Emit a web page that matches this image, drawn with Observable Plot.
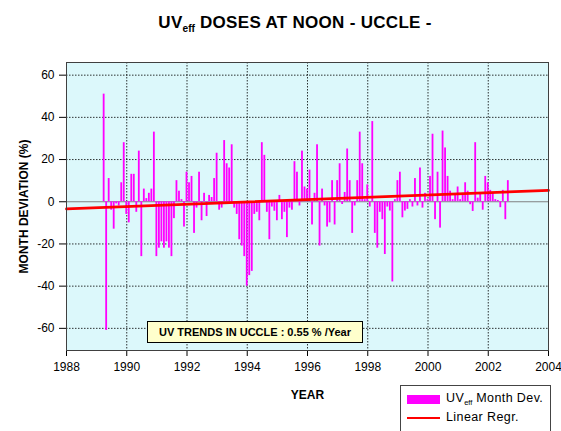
<!DOCTYPE html>
<html><head><meta charset="utf-8">
<script src="https://cdn.jsdelivr.net/npm/d3@7"></script>
<script src="https://cdn.jsdelivr.net/npm/@observablehq/plot@0.6"></script>
<style>
body{margin:0;background:#fff;}
#wrap{position:relative;width:561px;height:431px;overflow:hidden;font-family:"Liberation Sans",Arial,sans-serif;color:#000;}
#chart{position:absolute;left:0;top:0;}
#title{position:absolute;left:0;width:590px;top:13px;text-align:center;font-weight:bold;font-size:17px;letter-spacing:0.3px;}
#title sub, .leg sub{font-size:0.6em;vertical-align:-0.35em;letter-spacing:0;}
#note{position:absolute;left:147px;top:321px;width:214px;height:20px;border:1px solid #000;background:#ffffcc;font-weight:bold;font-size:11px;line-height:20px;text-align:center;}
#legend{position:absolute;left:400px;top:385px;width:149px;height:60px;border:1px solid #444;background:#fff;}
.sw{position:absolute;}
.leg{position:absolute;left:45px;font-size:12.5px;letter-spacing:0.4px;white-space:nowrap;}
g[aria-label="y-axis label"] text, g[aria-label="x-axis label"] text{font-weight:bold;font-size:12px;}
</style>
</head><body>
<div id="wrap">
  <div id="chart"></div>
  <div id="title">UV<sub>eff</sub> DOSES AT NOON - UCCLE -</div>
  <div id="note">UV TRENDS IN UCCLE : 0.55 % /Year</div>
  <div id="legend">
    <div class="sw" style="left:6px;top:9px;width:33px;height:9px;background:#ff00ff"></div>
    <div class="leg" style="top:5px">UV<sub>eff</sub> Month Dev.</div>
    <div class="sw" style="left:6px;top:31px;width:33px;height:2px;background:#ff0000"></div>
    <div class="leg" style="top:24px">Linear Regr.</div>
  </div>
</div>
<script>
// Monthly deviations (%) by year; 1989 starts in April
const dev1989 = [51, -61, 11, -4, -13, -1, -2, 9, 28];
const dev1990 = [-6, -10, 13, 13, -5, 24, -26, 6, 1.5, 4, 6, 33];
const dev1991 = [-26, -22, -19, -22, -19, -22, -26, -8, 10, 5, 1, -12];
const dev1992 = [14, 9, 12, -15, -3, 14, -9, 4, -7, 3, 2, 11];
const dev1993 = [23, -4, -3, 29, 18, 16, 27, -3, -6, -18, -21, -26];
const dev1994 = [-40, -35, -33, -6, -5, -9, 28, 22, -5, -18, -2.5, -4.5];
const dev1995 = [-9, 3, -8.5, -5, -17, -3, -4, 19, 14, -2, 24, 7];
const dev1996 = [6, 15, -11, 4, 27, -21, 6, -2, -12, -10, 10, -11];
const dev1997 = [10, 18, -1.3, 4.4, 25, 10, -15, -2, 10, 33, 18, 1];
const dev1998 = [8, -2.5, 38, -15, -22, -5, -8.5, -25, -2.5, -4.4, -38, 1];
const dev1999 = [10, 14, -7.6, -4.4, -3.6, 1, -2.5, 11, -2, 16, -3, 4];
const dev2000 = [1, 12, 32, -8.5, 14, -12.5, 33.5, 25.5, 12, 5, 1, 3];
const dev2001 = [7, 1, 4, 9, 5, -1.4, -4.6, 28, 1.7, 4, -4, 12];
const dev2002 = [9, 5.4, 4, 1, 0.6, -2.8, 5.4, -8.5, 10];
const seriesYears = [1989,1990,1991,1992,1993,1994,1995,1996,1997,1998,1999,2000,2001,2002];
const seriesDevs = [dev1989,dev1990,dev1991,dev1992,dev1993,dev1994,dev1995,dev1996,dev1997,dev1998,dev1999,dev2000,dev2001,dev2002];
const firstMonth = [3,0,0,0,0,0,0,0,0,0,0,0,0,0];

// Linear regression (0.55 %/year)
const regYears = [1988, 2004];
const regValues = [-3.4, 5.4];

const xTicks = [1988,1990,1992,1994,1996,1998,2000,2002,2004];
const yTicks = [-60,-40,-20,0,20,40,60];
const xGrid = [1990,1992,1994,1996,1998,2000,2002];
const yGrid = [-60,-40,-20,20,40,60];

const data = [];
seriesYears.forEach((y, k) => seriesDevs[k].forEach((v, i) => data.push({t: y + (firstMonth[k] + i) / 12, v})));
const reg = regYears.map((x, i) => ({x, y: regValues[i]}));

const chart = Plot.plot({
  width: 561, height: 431,
  marginTop: 62, marginBottom: 81, marginLeft: 66, marginRight: 13,
  style: {fontFamily: "Liberation Sans, Arial, sans-serif", fontSize: "12px", background: "transparent", color: "#000"},
  x: {domain: [1988, 2004]},
  y: {domain: [-70.5, 66]},
  marks: [
    Plot.frame({fill: "#dcf8fb", stroke: null}),
    Plot.gridX(xGrid, {stroke: "#000", strokeOpacity: 0.8, strokeDasharray: "1.5,1.5"}),
    Plot.gridY(yGrid, {stroke: "#000", strokeOpacity: 0.8, strokeDasharray: "1.5,1.5"}),
    Plot.ruleY([0], {stroke: "#808080", strokeWidth: 1.2}),
    Plot.rect(data, {x1: d => d.t - 0.03, x2: d => d.t + 0.03, y1: d => 0, y2: "v", fill: "#ff00ff"}),
    Plot.line(reg, {x: "x", y: "y", stroke: "#ff0000", strokeWidth: 2.8}),
    Plot.axisX(xTicks, {tickSize: 6, tickPadding: 6, tickFormat: d => String(d), label: "YEAR", labelAnchor: "center", labelArrow: "none", labelOffset: 48}),
    Plot.axisY(yTicks, {tickSize: 7, tickPadding: 5, tickFormat: d => String(d), label: "MONTH DEVIATION (%)", labelAnchor: "center", labelArrow: "none", labelOffset: 47}),
    Plot.frame({stroke: "#404040"})
  ]
});
document.getElementById("chart").appendChild(chart);
</script>
</body></html>
